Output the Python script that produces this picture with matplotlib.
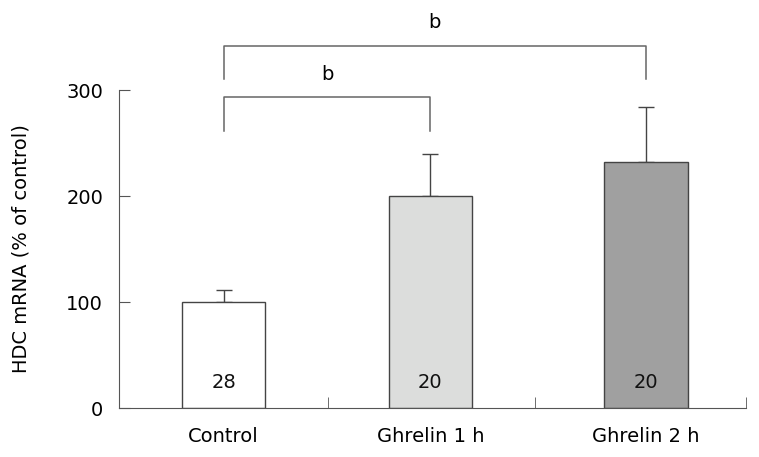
import numpy as np
import matplotlib.pyplot as plt

# HDC mRNA expression, % of control
groups = ["Control", "Ghrelin 1 h", "Ghrelin 2 h"]
means = [100, 200, 232]
errs = [11, 40, 52]
n_counts = ["28", "20", "20"]
colors = ["#ffffff", "#dcdddc", "#a0a0a0"]

# significance brackets: (group a, group b, label)
brackets = [(0, 1, "b"), (0, 2, "b")]
bracket_low = [261, 310]
bracket_high = [293, 342]

fig = plt.figure(figsize=(7.59, 4.57), dpi=100)
ax = fig.add_axes([0.1568, 0.1072, 0.8261, 0.6958])

# bar centres, slightly uneven like the original
x = np.array([0.0, 0.99, 2.02])
ax.bar(x, means, width=0.4, color=colors, edgecolor="#444444", linewidth=1, zorder=2)
ax.errorbar(x, means, yerr=[np.zeros(len(errs)), errs], fmt="none",
            ecolor="#444444", elinewidth=1, capsize=5.5, capthick=1, zorder=1)

for xi, n in zip(x, n_counts):
    ax.text(xi, 24, n, ha="center", va="center", fontsize=14, color="#111111")

for (a, b, lab), lo, hi in zip(brackets, bracket_low, bracket_high):
    xa, xb = x[a], x[b]
    ax.plot([xa, xa, xb, xb], [lo, hi, hi, lo], color="#666666", lw=1.1, clip_on=False)
    ax.text((xa + xb) / 2, hi + 22, lab, ha="center", va="center", fontsize=14)

ax.set_xlim(-0.5, 2.5)
ax.set_ylim(0, 300)
ax.set_yticks([0, 100, 200, 300])
ax.set_xticks(x)
ax.set_xticklabels(groups, fontsize=14)
ax.set_xticks([0.5, 1.49, 2.5], minor=True)
ax.tick_params(axis="x", which="major", length=0, pad=14)
ax.tick_params(axis="x", which="minor", direction="in", length=8, color="#555555")
ax.tick_params(axis="y", direction="in", length=8, color="#555555", labelsize=14, pad=11.5)
ax.set_ylabel("HDC mRNA (% of control)", fontsize=14, labelpad=26)

for s in ["top", "right"]:
    ax.spines[s].set_visible(False)
for s in ["left", "bottom"]:
    ax.spines[s].set_color("#555555")

fig.savefig("out.png", dpi=100)
